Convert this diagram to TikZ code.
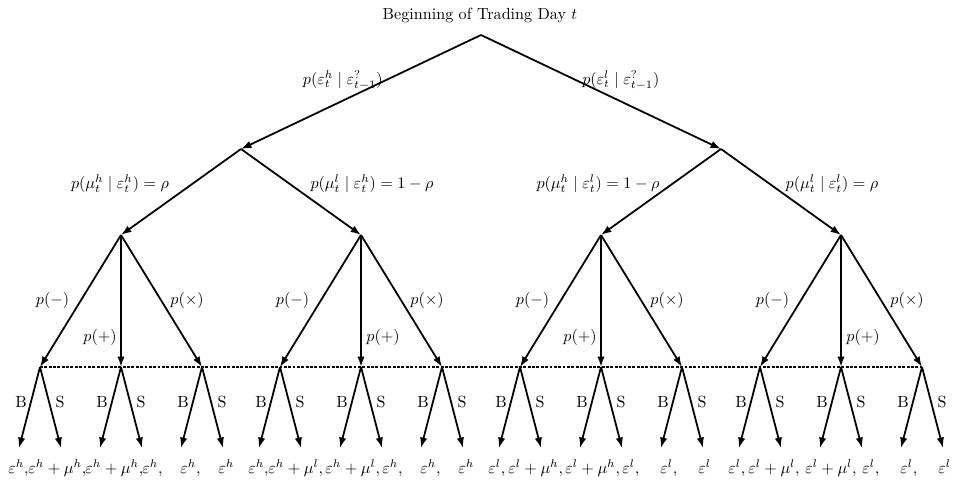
\documentclass[tikz,border=0pt]{standalone}
\usetikzlibrary{arrows.meta}
\begin{document}
\begin{tikzpicture}[x=0.62pt,y=-0.62pt,
  edge/.style={line width=1.1pt,-{Latex[length=6.5pt,width=4.6pt]}},
  dotline/.style={line width=1.6pt,dash pattern=on 1.8pt off 0.9pt},
  lbl/.style={inner sep=0pt},
  bs/.style={inner sep=0pt}]
\useasboundingbox (0,0) rectangle (957,483);

% title
\node[lbl,anchor=base] (title) at (480,19) {Beginning of Trading Day $t$};

% tree points
\coordinate (r) at (481,35);
\coordinate (h) at (241,149);
\coordinate (l) at (721,149);
\foreach \g/\x in {1/121,2/361,3/601,4/841}{
  \coordinate (m\g) at (\x,235);
  \coordinate (n\g-a) at (\x-81,367);
  \coordinate (n\g-b) at (\x,367);
  \coordinate (n\g-c) at (\x+81,367);
  \foreach \k/\o in {a/-81,b/0,c/81}{
    \coordinate (f\g-\k-B) at (\x+\o-21,448);
    \coordinate (f\g-\k-S) at (\x+\o+21,448);
  }
}

% information set
\draw[dotline] (n1-a) -- (n4-c);

% edges
\draw[edge] (r) -- (h);
\draw[edge] (r) -- (l);
\foreach \g/\p in {1/h,2/h,3/l,4/l}{
  \draw[edge] (\p) -- (m\g);
  \foreach \k in {a,b,c}{
    \draw[edge] (m\g) -- (n\g-\k);
    \draw[edge] (n\g-\k) -- (f\g-\k-B);
    \draw[edge] (n\g-\k) -- (f\g-\k-S);
  }
}

% level 1 labels
\node[lbl,anchor=base east] (lh) at (383,84) {$p(\varepsilon^{h}_{t}\mid\varepsilon^{?}_{t-1})$};
\node[lbl,anchor=base west] (ll) at (582,84) {$p(\varepsilon^{l}_{t}\mid\varepsilon^{?}_{t-1})$};

% level 2 labels
\node[lbl] (q1) at (120,184) {$p(\mu^{h}_{t}\mid\varepsilon^{h}_{t})=\rho$};
\node[lbl] (q2) at (372,184) {$p(\mu^{l}_{t}\mid\varepsilon^{h}_{t})=1-\rho$};
\node[lbl] (q3) at (598,184) {$p(\mu^{h}_{t}\mid\varepsilon^{l}_{t})=1-\rho$};
\node[lbl] (q4) at (832,184) {$p(\mu^{l}_{t}\mid\varepsilon^{l}_{t})=\rho$};

% level 3 labels
\foreach \g/\x/\d in {1/121/-21,2/361/22,3/601/-21,4/841/22}{
  \node[lbl] (pm\g) at (\x-68.5,300) {$p(-)$};
  \node[lbl] (pp\g) at (\x+\d,337) {$p(+)$};
  \node[lbl] (px\g) at (\x+66,300) {$p(\times)$};
  \foreach \k/\o in {a/-81,b/0,c/81}{
    \node[bs] (B\g-\k) at (\x+\o-19,402) {B};
    \node[bs] (S\g-\k) at (\x+\o+20,402) {S};
  }
}

% leaf texts
\foreach \g/\e/\m in {1/h/h,2/h/l,3/l/h,4/l/l}{
  \pgfmathsetmacro{\ox}{240*(\g-1)}
  \node[lbl,anchor=base west] (t\g-1) at (\ox+8,473) {$\varepsilon^{\e},$};
  \node[lbl,anchor=base west] (t\g-2) at (\ox+28,473) {$\varepsilon^{\e}+\mu^{\m},$};
  \node[lbl,anchor=base west] (t\g-3) at (\ox+85,473) {$\varepsilon^{\e}+\mu^{\m},$};
  \node[lbl,anchor=base west] (t\g-4) at (\ox+142,473) {$\varepsilon^{\e},$};
  \node[lbl,anchor=base west] (t\g-5) at (\ox+180,473) {$\varepsilon^{\e},$};
  \node[lbl,anchor=base west] (t\g-6) at (\ox+218,473) {$\varepsilon^{\e}$};
}
\end{tikzpicture}
\end{document}
